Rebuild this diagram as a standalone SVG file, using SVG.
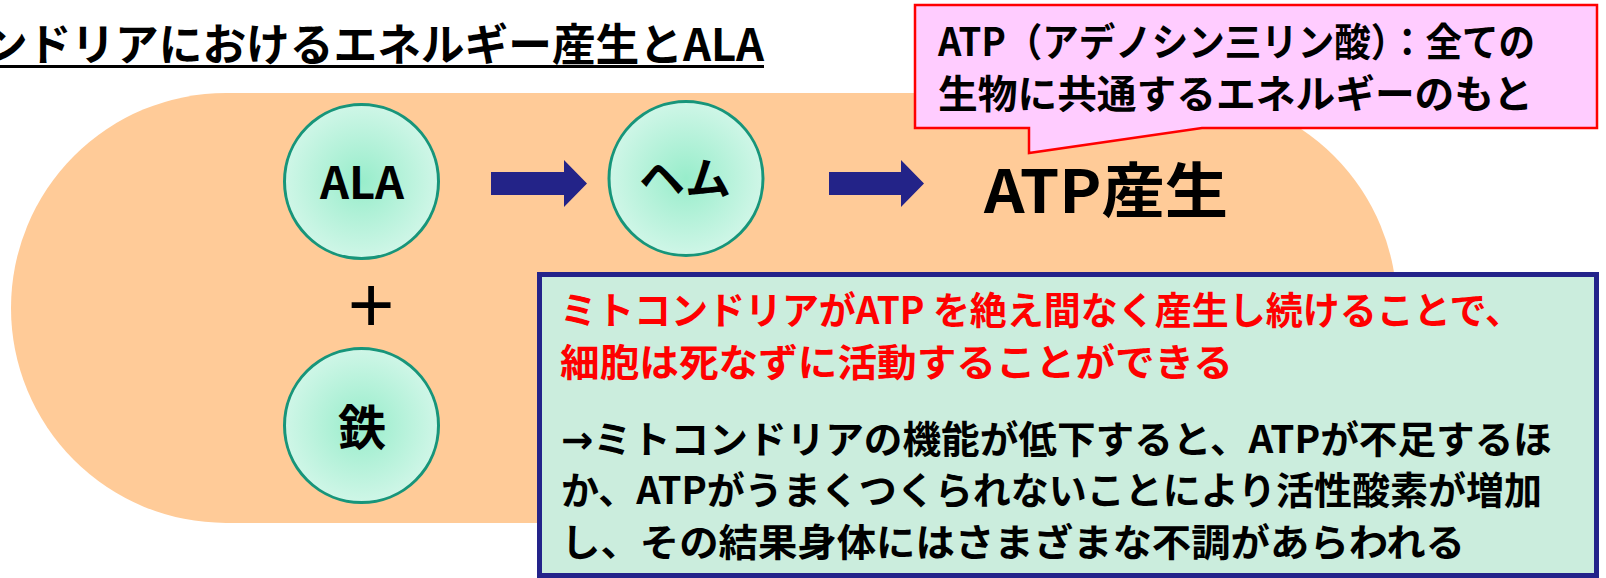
<svg xmlns="http://www.w3.org/2000/svg" width="1606" height="578" viewBox="0 0 1606 578">
<defs>
<radialGradient id="mint" cx="50%" cy="50%" r="50%">
<stop offset="0" stop-color="#98EDCB"/>
<stop offset="1" stop-color="#CFF6E7"/>
</radialGradient>
<style>
.jp{font-family:"Noto Sans CJK JP","Noto Sans CJK SC",sans-serif;font-weight:bold;}
.node{fill:url(#mint);stroke:#17957A;stroke-width:3;}
.arrow{fill:#232388;}
.blk{fill:#000;}
.red{fill:#FF0000;}
.sym{font-family:"DejaVu Sans",sans-serif;font-weight:bold;}
</style>
</defs>
<rect width="1606" height="578" fill="#FFFFFF"/>
<g id="title">
<text class="jp blk" x="-16" y="61" font-size="44" textLength="780" lengthAdjust="spacingAndGlyphs">ンドリアにおけるエネルギー産生とALA</text>
<line x1="0" y1="66.5" x2="764" y2="66.5" stroke="#000" stroke-width="3"/>
</g>
<g id="mitochondria">
<rect x="11" y="93" width="1386" height="430" rx="215" ry="215" fill="#FFCB98"/>
</g>
<g id="node-ala">
<circle class="node" cx="361.5" cy="181.5" r="77"/>
<text class="jp blk" x="362" y="199" font-size="44" text-anchor="middle" textLength="84" lengthAdjust="spacingAndGlyphs">ALA</text>
</g>
<g id="node-heme">
<circle class="node" cx="686" cy="178.5" r="77"/>
<text class="jp blk" x="685" y="195" font-size="44" text-anchor="middle" textLength="92" lengthAdjust="spacingAndGlyphs">ヘム</text>
</g>
<g id="node-iron">
<circle class="node" cx="361.5" cy="425.5" r="77"/>
<text class="jp blk" x="362" y="445" font-size="48" text-anchor="middle">鉄</text>
</g>
<g id="plus">
<text x="371" y="332" font-family="Liberation Sans, Arial, sans-serif" font-size="80" text-anchor="middle" fill="#000">+</text>
</g>
<g id="atp">
<text class="jp blk" x="984" y="213" font-size="60" textLength="244" lengthAdjust="spacingAndGlyphs">ATP産生</text>
</g>
<g id="connectors">
<path class="arrow" d="M491,172 H564 V160 L587,183.5 L564,207 V195 H491 Z"/>
<path class="arrow" d="M829,172 H901 V160 L924,183.5 L901,207 V195 H829 Z"/>
</g>
<g id="callout">
<path d="M915,5 H1597 V128 H1202 L1029,153 V128 H915 Z" fill="#FFCCFF" stroke="#FF0000" stroke-width="2.5" stroke-linejoin="miter"/>
<text class="jp blk" x="938" y="56" font-size="39" textLength="597" lengthAdjust="spacingAndGlyphs">ATP（アデノシン三リン酸）：全ての</text>
<text class="jp blk" x="938" y="108" font-size="39" textLength="595" lengthAdjust="spacingAndGlyphs">生物に共通するエネルギーのもと</text>
</g>
<g id="infobox">
<rect x="539.5" y="274.5" width="1057" height="301" fill="#CBEDDD" stroke="#23238A" stroke-width="5"/>
<text class="jp red" x="560" y="324" font-size="38" textLength="962" lengthAdjust="spacingAndGlyphs">ミトコンドリアがATP を絶え間なく産生し続けることで、</text>
<text class="jp red" x="560" y="376" font-size="38" textLength="673" lengthAdjust="spacingAndGlyphs">細胞は死なずに活動することができる</text>
<text class="jp blk" x="561" y="453" font-size="38" textLength="991" lengthAdjust="spacingAndGlyphs"><tspan class="sym">→</tspan>ミトコンドリアの機能が低下すると、ATPが不足するほ</text>
<text class="jp blk" x="561" y="504" font-size="38" textLength="981" lengthAdjust="spacingAndGlyphs">か、ATPがうまくつくられないことにより活性酸素が増加</text>
<text class="jp blk" x="561" y="556" font-size="38" textLength="904" lengthAdjust="spacingAndGlyphs">し、その結果身体にはさまざまな不調があらわれる</text>
</g>
</svg>
